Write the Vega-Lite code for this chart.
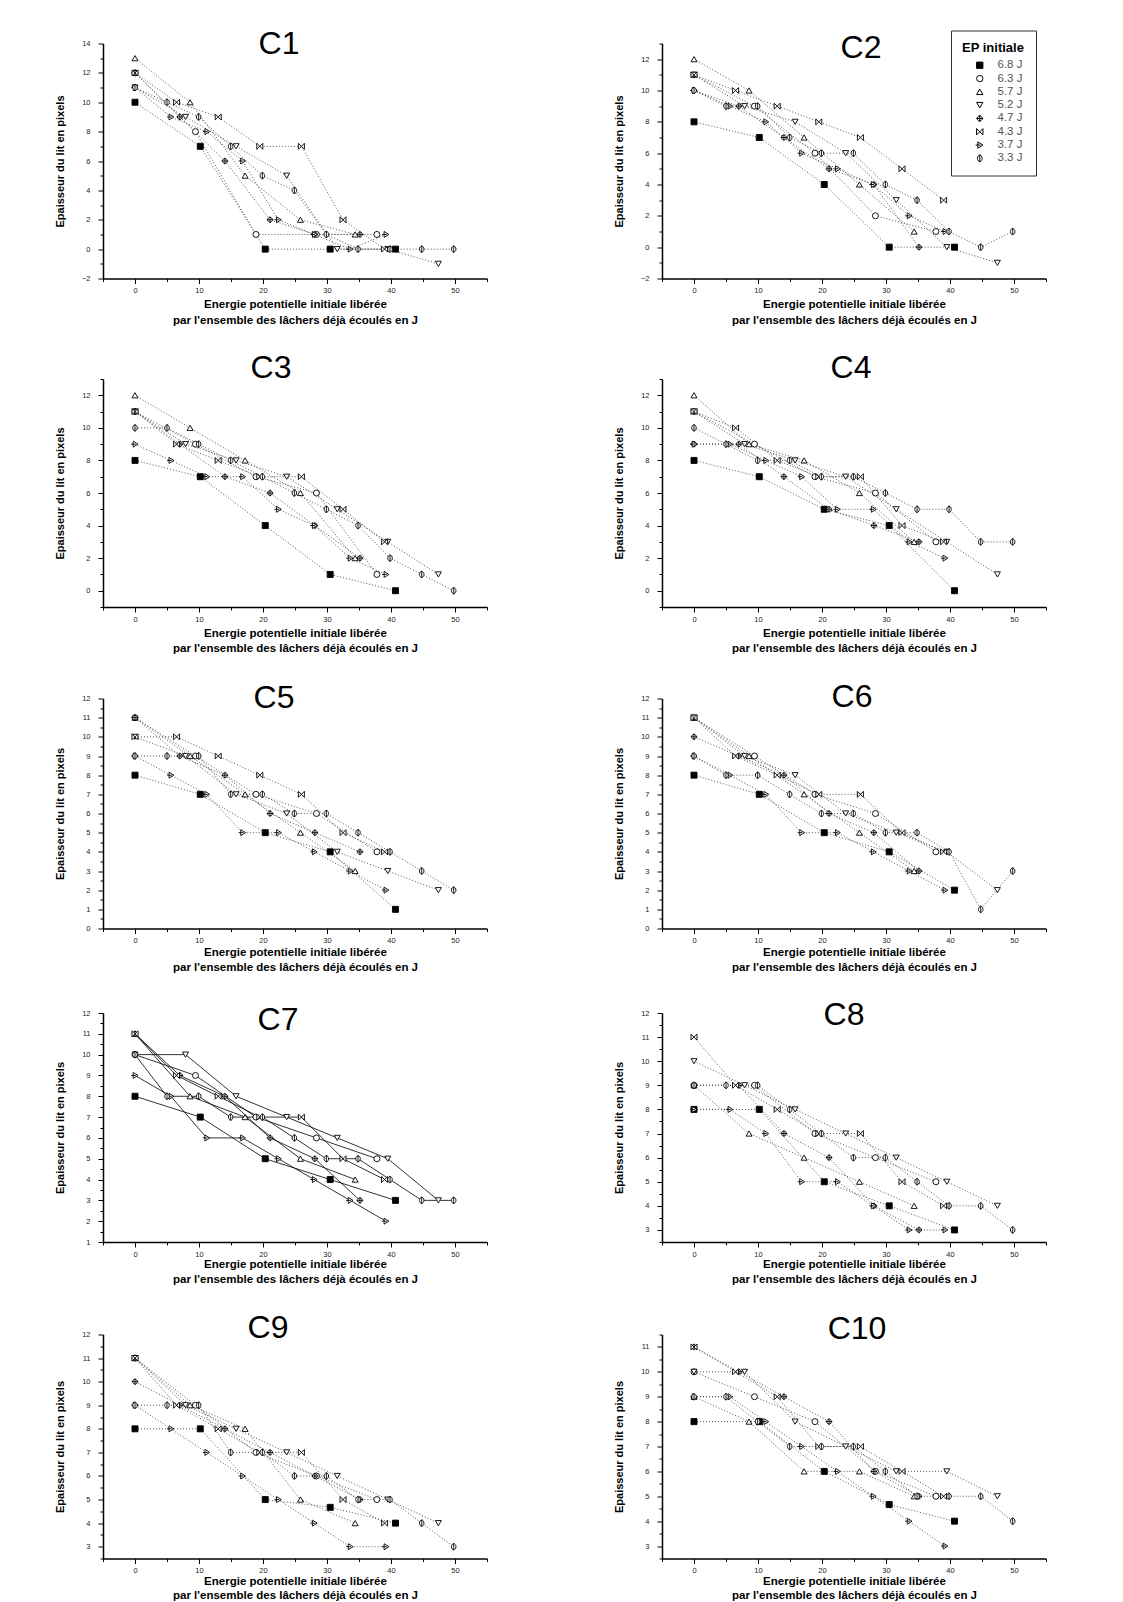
{
"$schema":"https://vega.github.io/schema/vega-lite/v6.json",
"background":"white",
"padding":{"left":54,"top":27.5,"right":5,"bottom":0},
"datasets":{
"C1":[
{"s":"6.8 J","x":0,"y":10},{"s":"6.8 J","x":10.2,"y":7},{"s":"6.8 J","x":20.35,"y":0},{"s":"6.8 J","x":30.5,"y":0},{"s":"6.8 J","x":40.7,"y":0},
{"s":"6.3 J","x":0,"y":12},{"s":"6.3 J","x":9.45,"y":8},{"s":"6.3 J","x":18.9,"y":1},{"s":"6.3 J","x":28.35,"y":1},{"s":"6.3 J","x":37.8,"y":1},
{"s":"5.7 J","x":0,"y":13},{"s":"5.7 J","x":8.6,"y":10},{"s":"5.7 J","x":17.2,"y":5},{"s":"5.7 J","x":25.85,"y":2},{"s":"5.7 J","x":34.4,"y":1},
{"s":"5.2 J","x":0,"y":11},{"s":"5.2 J","x":7.9,"y":9},{"s":"5.2 J","x":15.8,"y":7},{"s":"5.2 J","x":23.7,"y":5},{"s":"5.2 J","x":31.6,"y":0},{"s":"5.2 J","x":39.5,"y":0},{"s":"5.2 J","x":47.4,"y":-1},
{"s":"4.7 J","x":0,"y":12},{"s":"4.7 J","x":7,"y":9},{"s":"4.7 J","x":14.05,"y":6},{"s":"4.7 J","x":21.1,"y":2},{"s":"4.7 J","x":28.1,"y":1},{"s":"4.7 J","x":35.15,"y":1},
{"s":"4.3 J","x":0,"y":12},{"s":"4.3 J","x":6.5,"y":10},{"s":"4.3 J","x":13,"y":9},{"s":"4.3 J","x":19.5,"y":7},{"s":"4.3 J","x":26,"y":7},{"s":"4.3 J","x":32.5,"y":2},{"s":"4.3 J","x":39,"y":0},
{"s":"3.7 J","x":0,"y":11},{"s":"3.7 J","x":5.6,"y":9},{"s":"3.7 J","x":11.2,"y":8},{"s":"3.7 J","x":16.8,"y":6},{"s":"3.7 J","x":22.4,"y":2},{"s":"3.7 J","x":28,"y":1},{"s":"3.7 J","x":33.6,"y":0},{"s":"3.7 J","x":39.2,"y":1},
{"s":"3.3 J","x":0,"y":11},{"s":"3.3 J","x":5,"y":10},{"s":"3.3 J","x":9.95,"y":9},{"s":"3.3 J","x":14.95,"y":7},{"s":"3.3 J","x":19.9,"y":5},{"s":"3.3 J","x":24.9,"y":4},{"s":"3.3 J","x":29.9,"y":1},{"s":"3.3 J","x":34.85,"y":0},{"s":"3.3 J","x":39.85,"y":0},{"s":"3.3 J","x":44.8,"y":0},{"s":"3.3 J","x":49.8,"y":0}
],
"C2":[
{"s":"6.8 J","x":0,"y":8},{"s":"6.8 J","x":10.2,"y":7},{"s":"6.8 J","x":20.35,"y":4},{"s":"6.8 J","x":30.5,"y":0},{"s":"6.8 J","x":40.7,"y":0},
{"s":"6.3 J","x":0,"y":11},{"s":"6.3 J","x":9.45,"y":9},{"s":"6.3 J","x":18.9,"y":6},{"s":"6.3 J","x":28.35,"y":2},{"s":"6.3 J","x":37.8,"y":1},
{"s":"5.7 J","x":0,"y":12},{"s":"5.7 J","x":8.6,"y":10},{"s":"5.7 J","x":17.2,"y":7},{"s":"5.7 J","x":25.85,"y":4},{"s":"5.7 J","x":34.4,"y":1},
{"s":"5.2 J","x":0,"y":11},{"s":"5.2 J","x":7.9,"y":9},{"s":"5.2 J","x":15.8,"y":8},{"s":"5.2 J","x":23.7,"y":6},{"s":"5.2 J","x":31.6,"y":3},{"s":"5.2 J","x":39.5,"y":0},{"s":"5.2 J","x":47.4,"y":-1},
{"s":"4.7 J","x":0,"y":10},{"s":"4.7 J","x":7,"y":9},{"s":"4.7 J","x":14.05,"y":7},{"s":"4.7 J","x":21.1,"y":5},{"s":"4.7 J","x":28.1,"y":4},{"s":"4.7 J","x":35.15,"y":0},
{"s":"4.3 J","x":0,"y":11},{"s":"4.3 J","x":6.5,"y":10},{"s":"4.3 J","x":13,"y":9},{"s":"4.3 J","x":19.5,"y":8},{"s":"4.3 J","x":26,"y":7},{"s":"4.3 J","x":32.5,"y":5},{"s":"4.3 J","x":39,"y":3},
{"s":"3.7 J","x":0,"y":10},{"s":"3.7 J","x":5.6,"y":9},{"s":"3.7 J","x":11.2,"y":8},{"s":"3.7 J","x":16.8,"y":6},{"s":"3.7 J","x":22.4,"y":5},{"s":"3.7 J","x":28,"y":4},{"s":"3.7 J","x":33.6,"y":2},{"s":"3.7 J","x":39.2,"y":1},
{"s":"3.3 J","x":0,"y":10},{"s":"3.3 J","x":5,"y":9},{"s":"3.3 J","x":9.95,"y":9},{"s":"3.3 J","x":14.95,"y":7},{"s":"3.3 J","x":19.9,"y":6},{"s":"3.3 J","x":24.9,"y":6},{"s":"3.3 J","x":29.9,"y":4},{"s":"3.3 J","x":34.85,"y":3},{"s":"3.3 J","x":39.85,"y":1},{"s":"3.3 J","x":44.8,"y":0},{"s":"3.3 J","x":49.8,"y":1}
],
"C3":[
{"s":"6.8 J","x":0,"y":8},{"s":"6.8 J","x":10.2,"y":7},{"s":"6.8 J","x":20.35,"y":4},{"s":"6.8 J","x":30.5,"y":1},{"s":"6.8 J","x":40.7,"y":0},
{"s":"6.3 J","x":0,"y":11},{"s":"6.3 J","x":9.45,"y":9},{"s":"6.3 J","x":18.9,"y":7},{"s":"6.3 J","x":28.35,"y":6},{"s":"6.3 J","x":37.8,"y":1},
{"s":"5.7 J","x":0,"y":12},{"s":"5.7 J","x":8.6,"y":10},{"s":"5.7 J","x":17.2,"y":8},{"s":"5.7 J","x":25.85,"y":6},{"s":"5.7 J","x":34.4,"y":2},
{"s":"5.2 J","x":0,"y":11},{"s":"5.2 J","x":7.9,"y":9},{"s":"5.2 J","x":15.8,"y":8},{"s":"5.2 J","x":23.7,"y":7},{"s":"5.2 J","x":31.6,"y":5},{"s":"5.2 J","x":39.5,"y":3},{"s":"5.2 J","x":47.4,"y":1},
{"s":"4.7 J","x":0,"y":11},{"s":"4.7 J","x":7,"y":9},{"s":"4.7 J","x":14.05,"y":7},{"s":"4.7 J","x":21.1,"y":6},{"s":"4.7 J","x":28.1,"y":4},{"s":"4.7 J","x":35.15,"y":2},
{"s":"4.3 J","x":0,"y":11},{"s":"4.3 J","x":6.5,"y":9},{"s":"4.3 J","x":13,"y":8},{"s":"4.3 J","x":19.5,"y":7},{"s":"4.3 J","x":26,"y":7},{"s":"4.3 J","x":32.5,"y":5},{"s":"4.3 J","x":39,"y":3},
{"s":"3.7 J","x":0,"y":9},{"s":"3.7 J","x":5.6,"y":8},{"s":"3.7 J","x":11.2,"y":7},{"s":"3.7 J","x":16.8,"y":7},{"s":"3.7 J","x":22.4,"y":5},{"s":"3.7 J","x":28,"y":4},{"s":"3.7 J","x":33.6,"y":2},{"s":"3.7 J","x":39.2,"y":1},
{"s":"3.3 J","x":0,"y":10},{"s":"3.3 J","x":5,"y":10},{"s":"3.3 J","x":9.95,"y":9},{"s":"3.3 J","x":14.95,"y":8},{"s":"3.3 J","x":19.9,"y":7},{"s":"3.3 J","x":24.9,"y":6},{"s":"3.3 J","x":29.9,"y":5},{"s":"3.3 J","x":34.85,"y":4},{"s":"3.3 J","x":39.85,"y":2},{"s":"3.3 J","x":44.8,"y":1},{"s":"3.3 J","x":49.8,"y":0}
],
"C4":[
{"s":"6.8 J","x":0,"y":8},{"s":"6.8 J","x":10.2,"y":7},{"s":"6.8 J","x":20.35,"y":5},{"s":"6.8 J","x":30.5,"y":4},{"s":"6.8 J","x":40.7,"y":0},
{"s":"6.3 J","x":0,"y":11},{"s":"6.3 J","x":9.45,"y":9},{"s":"6.3 J","x":18.9,"y":7},{"s":"6.3 J","x":28.35,"y":6},{"s":"6.3 J","x":37.8,"y":3},
{"s":"5.7 J","x":0,"y":12},{"s":"5.7 J","x":8.6,"y":9},{"s":"5.7 J","x":17.2,"y":8},{"s":"5.7 J","x":25.85,"y":6},{"s":"5.7 J","x":34.4,"y":3},
{"s":"5.2 J","x":0,"y":11},{"s":"5.2 J","x":7.9,"y":9},{"s":"5.2 J","x":15.8,"y":8},{"s":"5.2 J","x":23.7,"y":7},{"s":"5.2 J","x":31.6,"y":5},{"s":"5.2 J","x":39.5,"y":3},{"s":"5.2 J","x":47.4,"y":1},
{"s":"4.7 J","x":0,"y":9},{"s":"4.7 J","x":7,"y":9},{"s":"4.7 J","x":14.05,"y":7},{"s":"4.7 J","x":21.1,"y":5},{"s":"4.7 J","x":28.1,"y":4},{"s":"4.7 J","x":35.15,"y":3},
{"s":"4.3 J","x":0,"y":11},{"s":"4.3 J","x":6.5,"y":10},{"s":"4.3 J","x":13,"y":8},{"s":"4.3 J","x":19.5,"y":7},{"s":"4.3 J","x":26,"y":7},{"s":"4.3 J","x":32.5,"y":4},{"s":"4.3 J","x":39,"y":3},
{"s":"3.7 J","x":0,"y":9},{"s":"3.7 J","x":5.6,"y":9},{"s":"3.7 J","x":11.2,"y":8},{"s":"3.7 J","x":16.8,"y":7},{"s":"3.7 J","x":22.4,"y":5},{"s":"3.7 J","x":28,"y":5},{"s":"3.7 J","x":33.6,"y":3},{"s":"3.7 J","x":39.2,"y":2},
{"s":"3.3 J","x":0,"y":10},{"s":"3.3 J","x":5,"y":9},{"s":"3.3 J","x":9.95,"y":8},{"s":"3.3 J","x":14.95,"y":8},{"s":"3.3 J","x":19.9,"y":7},{"s":"3.3 J","x":24.9,"y":7},{"s":"3.3 J","x":29.9,"y":6},{"s":"3.3 J","x":34.85,"y":5},{"s":"3.3 J","x":39.85,"y":5},{"s":"3.3 J","x":44.8,"y":3},{"s":"3.3 J","x":49.8,"y":3}
],
"C5":[
{"s":"6.8 J","x":0,"y":8},{"s":"6.8 J","x":10.2,"y":7},{"s":"6.8 J","x":20.35,"y":5},{"s":"6.8 J","x":30.5,"y":4},{"s":"6.8 J","x":40.7,"y":1},
{"s":"6.3 J","x":0,"y":11},{"s":"6.3 J","x":9.45,"y":9},{"s":"6.3 J","x":18.9,"y":7},{"s":"6.3 J","x":28.35,"y":6},{"s":"6.3 J","x":37.8,"y":4},
{"s":"5.7 J","x":0,"y":11},{"s":"5.7 J","x":8.6,"y":9},{"s":"5.7 J","x":17.2,"y":7},{"s":"5.7 J","x":25.85,"y":5},{"s":"5.7 J","x":34.4,"y":3},
{"s":"5.2 J","x":0,"y":10},{"s":"5.2 J","x":7.9,"y":9},{"s":"5.2 J","x":15.8,"y":7},{"s":"5.2 J","x":23.7,"y":6},{"s":"5.2 J","x":31.6,"y":4},{"s":"5.2 J","x":39.5,"y":3},{"s":"5.2 J","x":47.4,"y":2},
{"s":"4.7 J","x":0,"y":11},{"s":"4.7 J","x":7,"y":9},{"s":"4.7 J","x":14.05,"y":8},{"s":"4.7 J","x":21.1,"y":6},{"s":"4.7 J","x":28.1,"y":5},{"s":"4.7 J","x":35.15,"y":4},
{"s":"4.3 J","x":0,"y":10},{"s":"4.3 J","x":6.5,"y":10},{"s":"4.3 J","x":13,"y":9},{"s":"4.3 J","x":19.5,"y":8},{"s":"4.3 J","x":26,"y":7},{"s":"4.3 J","x":32.5,"y":5},{"s":"4.3 J","x":39,"y":4},
{"s":"3.7 J","x":0,"y":9},{"s":"3.7 J","x":5.6,"y":8},{"s":"3.7 J","x":11.2,"y":7},{"s":"3.7 J","x":16.8,"y":5},{"s":"3.7 J","x":22.4,"y":5},{"s":"3.7 J","x":28,"y":4},{"s":"3.7 J","x":33.6,"y":3},{"s":"3.7 J","x":39.2,"y":2},
{"s":"3.3 J","x":0,"y":9},{"s":"3.3 J","x":5,"y":9},{"s":"3.3 J","x":9.95,"y":9},{"s":"3.3 J","x":14.95,"y":7},{"s":"3.3 J","x":19.9,"y":7},{"s":"3.3 J","x":24.9,"y":6},{"s":"3.3 J","x":29.9,"y":6},{"s":"3.3 J","x":34.85,"y":5},{"s":"3.3 J","x":39.85,"y":4},{"s":"3.3 J","x":44.8,"y":3},{"s":"3.3 J","x":49.8,"y":2}
],
"C6":[
{"s":"6.8 J","x":0,"y":8},{"s":"6.8 J","x":10.2,"y":7},{"s":"6.8 J","x":20.35,"y":5},{"s":"6.8 J","x":30.5,"y":4},{"s":"6.8 J","x":40.7,"y":2},
{"s":"6.3 J","x":0,"y":11},{"s":"6.3 J","x":9.45,"y":9},{"s":"6.3 J","x":18.9,"y":7},{"s":"6.3 J","x":28.35,"y":6},{"s":"6.3 J","x":37.8,"y":4},
{"s":"5.7 J","x":0,"y":11},{"s":"5.7 J","x":8.6,"y":9},{"s":"5.7 J","x":17.2,"y":7},{"s":"5.7 J","x":25.85,"y":5},{"s":"5.7 J","x":34.4,"y":3},
{"s":"5.2 J","x":0,"y":11},{"s":"5.2 J","x":7.9,"y":9},{"s":"5.2 J","x":15.8,"y":8},{"s":"5.2 J","x":23.7,"y":6},{"s":"5.2 J","x":31.6,"y":5},{"s":"5.2 J","x":39.5,"y":4},{"s":"5.2 J","x":47.4,"y":2},
{"s":"4.7 J","x":0,"y":10},{"s":"4.7 J","x":7,"y":9},{"s":"4.7 J","x":14.05,"y":8},{"s":"4.7 J","x":21.1,"y":6},{"s":"4.7 J","x":28.1,"y":5},{"s":"4.7 J","x":35.15,"y":3},
{"s":"4.3 J","x":0,"y":11},{"s":"4.3 J","x":6.5,"y":9},{"s":"4.3 J","x":13,"y":8},{"s":"4.3 J","x":19.5,"y":7},{"s":"4.3 J","x":26,"y":7},{"s":"4.3 J","x":32.5,"y":5},{"s":"4.3 J","x":39,"y":4},
{"s":"3.7 J","x":0,"y":9},{"s":"3.7 J","x":5.6,"y":8},{"s":"3.7 J","x":11.2,"y":7},{"s":"3.7 J","x":16.8,"y":5},{"s":"3.7 J","x":22.4,"y":5},{"s":"3.7 J","x":28,"y":4},{"s":"3.7 J","x":33.6,"y":3},{"s":"3.7 J","x":39.2,"y":2},
{"s":"3.3 J","x":0,"y":9},{"s":"3.3 J","x":5,"y":8},{"s":"3.3 J","x":9.95,"y":8},{"s":"3.3 J","x":14.95,"y":7},{"s":"3.3 J","x":19.9,"y":6},{"s":"3.3 J","x":24.9,"y":6},{"s":"3.3 J","x":29.9,"y":5},{"s":"3.3 J","x":34.85,"y":5},{"s":"3.3 J","x":39.85,"y":4},{"s":"3.3 J","x":44.8,"y":1},{"s":"3.3 J","x":49.8,"y":3}
],
"C7":[
{"s":"6.8 J","x":0,"y":8},{"s":"6.8 J","x":10.2,"y":7},{"s":"6.8 J","x":20.35,"y":5},{"s":"6.8 J","x":30.5,"y":4},{"s":"6.8 J","x":40.7,"y":3},
{"s":"6.3 J","x":0,"y":10},{"s":"6.3 J","x":9.45,"y":9},{"s":"6.3 J","x":18.9,"y":7},{"s":"6.3 J","x":28.35,"y":6},{"s":"6.3 J","x":37.8,"y":5},
{"s":"5.7 J","x":0,"y":11},{"s":"5.7 J","x":8.6,"y":8},{"s":"5.7 J","x":17.2,"y":7},{"s":"5.7 J","x":25.85,"y":5},{"s":"5.7 J","x":34.4,"y":4},
{"s":"5.2 J","x":0,"y":10},{"s":"5.2 J","x":7.9,"y":10},{"s":"5.2 J","x":15.8,"y":8},{"s":"5.2 J","x":23.7,"y":7},{"s":"5.2 J","x":31.6,"y":6},{"s":"5.2 J","x":39.5,"y":5},{"s":"5.2 J","x":47.4,"y":3},
{"s":"4.7 J","x":0,"y":11},{"s":"4.7 J","x":7,"y":9},{"s":"4.7 J","x":14.05,"y":8},{"s":"4.7 J","x":21.1,"y":6},{"s":"4.7 J","x":28.1,"y":5},{"s":"4.7 J","x":35.15,"y":3},
{"s":"4.3 J","x":0,"y":11},{"s":"4.3 J","x":6.5,"y":9},{"s":"4.3 J","x":13,"y":8},{"s":"4.3 J","x":19.5,"y":7},{"s":"4.3 J","x":26,"y":7},{"s":"4.3 J","x":32.5,"y":5},{"s":"4.3 J","x":39,"y":4},
{"s":"3.7 J","x":0,"y":9},{"s":"3.7 J","x":5.6,"y":8},{"s":"3.7 J","x":11.2,"y":6},{"s":"3.7 J","x":16.8,"y":6},{"s":"3.7 J","x":22.4,"y":5},{"s":"3.7 J","x":28,"y":4},{"s":"3.7 J","x":33.6,"y":3},{"s":"3.7 J","x":39.2,"y":2},
{"s":"3.3 J","x":0,"y":10},{"s":"3.3 J","x":5,"y":8},{"s":"3.3 J","x":9.95,"y":8},{"s":"3.3 J","x":14.95,"y":7},{"s":"3.3 J","x":19.9,"y":7},{"s":"3.3 J","x":24.9,"y":6},{"s":"3.3 J","x":29.9,"y":5},{"s":"3.3 J","x":34.85,"y":5},{"s":"3.3 J","x":39.85,"y":4},{"s":"3.3 J","x":44.8,"y":3},{"s":"3.3 J","x":49.8,"y":3}
],
"C8":[
{"s":"6.8 J","x":0,"y":8},{"s":"6.8 J","x":10.2,"y":8},{"s":"6.8 J","x":20.35,"y":5},{"s":"6.8 J","x":30.5,"y":4},{"s":"6.8 J","x":40.7,"y":3},
{"s":"6.3 J","x":0,"y":9},{"s":"6.3 J","x":9.45,"y":9},{"s":"6.3 J","x":18.9,"y":7},{"s":"6.3 J","x":28.35,"y":6},{"s":"6.3 J","x":37.8,"y":5},
{"s":"5.7 J","x":0,"y":9},{"s":"5.7 J","x":8.6,"y":7},{"s":"5.7 J","x":17.2,"y":6},{"s":"5.7 J","x":25.85,"y":5},{"s":"5.7 J","x":34.4,"y":4},
{"s":"5.2 J","x":0,"y":10},{"s":"5.2 J","x":7.9,"y":9},{"s":"5.2 J","x":15.8,"y":8},{"s":"5.2 J","x":23.7,"y":7},{"s":"5.2 J","x":31.6,"y":6},{"s":"5.2 J","x":39.5,"y":5},{"s":"5.2 J","x":47.4,"y":4},
{"s":"4.7 J","x":0,"y":9},{"s":"4.7 J","x":7,"y":9},{"s":"4.7 J","x":14.05,"y":7},{"s":"4.7 J","x":21.1,"y":6},{"s":"4.7 J","x":28.1,"y":4},{"s":"4.7 J","x":35.15,"y":3},
{"s":"4.3 J","x":0,"y":11},{"s":"4.3 J","x":6.5,"y":9},{"s":"4.3 J","x":13,"y":8},{"s":"4.3 J","x":19.5,"y":7},{"s":"4.3 J","x":26,"y":7},{"s":"4.3 J","x":32.5,"y":5},{"s":"4.3 J","x":39,"y":4},
{"s":"3.7 J","x":0,"y":8},{"s":"3.7 J","x":5.6,"y":8},{"s":"3.7 J","x":11.2,"y":7},{"s":"3.7 J","x":16.8,"y":5},{"s":"3.7 J","x":22.4,"y":5},{"s":"3.7 J","x":28,"y":4},{"s":"3.7 J","x":33.6,"y":3},{"s":"3.7 J","x":39.2,"y":3},
{"s":"3.3 J","x":0,"y":9},{"s":"3.3 J","x":5,"y":9},{"s":"3.3 J","x":9.95,"y":9},{"s":"3.3 J","x":14.95,"y":8},{"s":"3.3 J","x":19.9,"y":7},{"s":"3.3 J","x":24.9,"y":6},{"s":"3.3 J","x":29.9,"y":6},{"s":"3.3 J","x":34.85,"y":5},{"s":"3.3 J","x":39.85,"y":4},{"s":"3.3 J","x":44.8,"y":4},{"s":"3.3 J","x":49.8,"y":3}
],
"C9":[
{"s":"6.8 J","x":0,"y":8},{"s":"6.8 J","x":10.2,"y":8},{"s":"6.8 J","x":20.35,"y":5},{"s":"6.8 J","x":30.5,"y":4.67},{"s":"6.8 J","x":40.7,"y":4},
{"s":"6.3 J","x":0,"y":11},{"s":"6.3 J","x":9.45,"y":9},{"s":"6.3 J","x":18.9,"y":7},{"s":"6.3 J","x":28.35,"y":6},{"s":"6.3 J","x":37.8,"y":5},
{"s":"5.7 J","x":0,"y":11},{"s":"5.7 J","x":8.6,"y":9},{"s":"5.7 J","x":17.2,"y":8},{"s":"5.7 J","x":25.85,"y":5},{"s":"5.7 J","x":34.4,"y":4},
{"s":"5.2 J","x":0,"y":11},{"s":"5.2 J","x":7.9,"y":9},{"s":"5.2 J","x":15.8,"y":8},{"s":"5.2 J","x":23.7,"y":7},{"s":"5.2 J","x":31.6,"y":6},{"s":"5.2 J","x":39.5,"y":5},{"s":"5.2 J","x":47.4,"y":4},
{"s":"4.7 J","x":0,"y":10},{"s":"4.7 J","x":7,"y":9},{"s":"4.7 J","x":14.05,"y":8},{"s":"4.7 J","x":21.1,"y":7},{"s":"4.7 J","x":28.1,"y":6},{"s":"4.7 J","x":35.15,"y":5},
{"s":"4.3 J","x":0,"y":11},{"s":"4.3 J","x":6.5,"y":9},{"s":"4.3 J","x":13,"y":8},{"s":"4.3 J","x":19.5,"y":7},{"s":"4.3 J","x":26,"y":7},{"s":"4.3 J","x":32.5,"y":5},{"s":"4.3 J","x":39,"y":4},
{"s":"3.7 J","x":0,"y":9},{"s":"3.7 J","x":5.6,"y":8},{"s":"3.7 J","x":11.2,"y":7},{"s":"3.7 J","x":16.8,"y":6},{"s":"3.7 J","x":22.4,"y":5},{"s":"3.7 J","x":28,"y":4},{"s":"3.7 J","x":33.6,"y":3},{"s":"3.7 J","x":39.2,"y":3},
{"s":"3.3 J","x":0,"y":9},{"s":"3.3 J","x":5,"y":9},{"s":"3.3 J","x":9.95,"y":9},{"s":"3.3 J","x":14.95,"y":7},{"s":"3.3 J","x":19.9,"y":7},{"s":"3.3 J","x":24.9,"y":6},{"s":"3.3 J","x":29.9,"y":6},{"s":"3.3 J","x":34.85,"y":5},{"s":"3.3 J","x":39.85,"y":5},{"s":"3.3 J","x":44.8,"y":4},{"s":"3.3 J","x":49.8,"y":3}
],
"C10":[
{"s":"6.8 J","x":0,"y":8},{"s":"6.8 J","x":10.2,"y":8},{"s":"6.8 J","x":20.35,"y":6},{"s":"6.8 J","x":30.5,"y":4.67},{"s":"6.8 J","x":40.7,"y":4},
{"s":"6.3 J","x":0,"y":10},{"s":"6.3 J","x":9.45,"y":9},{"s":"6.3 J","x":18.9,"y":8},{"s":"6.3 J","x":28.35,"y":6},{"s":"6.3 J","x":37.8,"y":5},
{"s":"5.7 J","x":0,"y":9},{"s":"5.7 J","x":8.6,"y":8},{"s":"5.7 J","x":17.2,"y":6},{"s":"5.7 J","x":25.85,"y":6},{"s":"5.7 J","x":34.4,"y":5},
{"s":"5.2 J","x":0,"y":10},{"s":"5.2 J","x":7.9,"y":10},{"s":"5.2 J","x":15.8,"y":8},{"s":"5.2 J","x":23.7,"y":7},{"s":"5.2 J","x":31.6,"y":6},{"s":"5.2 J","x":39.5,"y":6},{"s":"5.2 J","x":47.4,"y":5},
{"s":"4.7 J","x":0,"y":11},{"s":"4.7 J","x":7,"y":10},{"s":"4.7 J","x":14.05,"y":9},{"s":"4.7 J","x":21.1,"y":8},{"s":"4.7 J","x":28.1,"y":6},{"s":"4.7 J","x":35.15,"y":5},
{"s":"4.3 J","x":0,"y":11},{"s":"4.3 J","x":6.5,"y":10},{"s":"4.3 J","x":13,"y":9},{"s":"4.3 J","x":19.5,"y":7},{"s":"4.3 J","x":26,"y":7},{"s":"4.3 J","x":32.5,"y":6},{"s":"4.3 J","x":39,"y":5},
{"s":"3.7 J","x":0,"y":9},{"s":"3.7 J","x":5.6,"y":9},{"s":"3.7 J","x":11.2,"y":8},{"s":"3.7 J","x":16.8,"y":7},{"s":"3.7 J","x":22.4,"y":6},{"s":"3.7 J","x":28,"y":5},{"s":"3.7 J","x":33.6,"y":4},{"s":"3.7 J","x":39.2,"y":3},
{"s":"3.3 J","x":0,"y":9},{"s":"3.3 J","x":5,"y":9},{"s":"3.3 J","x":9.95,"y":8},{"s":"3.3 J","x":14.95,"y":7},{"s":"3.3 J","x":19.9,"y":7},{"s":"3.3 J","x":24.9,"y":7},{"s":"3.3 J","x":29.9,"y":6},{"s":"3.3 J","x":34.85,"y":5},{"s":"3.3 J","x":39.85,"y":5},{"s":"3.3 J","x":44.8,"y":5},{"s":"3.3 J","x":49.8,"y":4}
]
},
"resolve":{"scale":{"shape":"independent","fill":"independent","stroke":"independent"},"legend":{"shape":"independent","fill":"independent","stroke":"independent"}},
"bounds":"full",
"spacing":26.5,
"vconcat":[
{"hconcat":[
{"width":384,"height":235,"data":{"name":"C1"},"title":{"text":"C1","offset":-21,"dx":-16},
"encoding":{"x":{"field":"x","type":"quantitative","scale":{"domain":[-5,55],"nice":false,"zero":false},"axis":{"values":[-5,0,5,10,15,20,25,30,35,40,45,50,55],"labelExpr":"datum.value % 10 === 0 ? datum.label : ''","tickSize":{"condition":{"test":"datum.value % 10 === 0","value":5},"value":3},"titlePadding":4,"titleLineHeight":16,"title":["Energie potentielle initiale libérée","par l'ensemble des lâchers déjà écoulés en J"]}},
"y":{"field":"y","type":"quantitative","scale":{"domain":[-2,14],"nice":false,"zero":false},"axis":{"values":[-2,-1,0,1,2,3,4,5,6,7,8,9,10,11,12,13,14],"labelExpr":"datum.value % 2 === 0 ? datum.label : ''","tickSize":{"condition":{"test":"datum.value % 2 === 0","value":5},"value":3},"title":"Epaisseur du lit en pixels"}}},
"layer":[{"mark":{"type":"line","strokeDash":[1,2],"color":"#555","strokeWidth":1},"encoding":{"detail":{"field":"s"}}},
{"mark":{"type":"point","filled":true,"strokeWidth":0.9,"size":36,"opacity":1},"encoding":{"shape":{"field":"s","type":"nominal","scale":{"domain":["6.8 J","6.3 J","5.7 J","5.2 J","4.7 J","4.3 J","3.7 J","3.3 J"],"range":["square","circle","triangle-up","triangle-down","M-0.8,0A0.8,0.8,0,1,0,0.8,0A0.8,0.8,0,1,0,-0.8,0ZM-1.1,0L1.1,0M0,-1.1L0,1.1","M-1,-1L1,1L1,-1L-1,1Z","M-0.6,-1L1,0L-0.6,1ZM-1.3,0L0.3,0","M-0.75,0A0.75,1,0,1,0,0.75,0A0.75,1,0,1,0,-0.75,0ZM0,-1.2L0,1.2"]},"legend":null},"fill":{"field":"s","type":"nominal","scale":{"domain":["6.8 J","6.3 J","5.7 J","5.2 J","4.7 J","4.3 J","3.7 J","3.3 J"],"range":["black","white","white","white","white","white","white","white"]},"legend":null},"stroke":{"field":"s","type":"nominal","scale":{"domain":["6.8 J","6.3 J","5.7 J","5.2 J","4.7 J","4.3 J","3.7 J","3.3 J"],"range":["black","black","black","black","black","black","black","black"]},"legend":null}}}]},
{"width":384,"height":235,"data":{"name":"C2"},"title":{"text":"C2","offset":-35,"dx":7},
"encoding":{"x":{"field":"x","type":"quantitative","scale":{"domain":[-5,55],"nice":false,"zero":false},"axis":{"values":[-5,0,5,10,15,20,25,30,35,40,45,50,55],"labelExpr":"datum.value % 10 === 0 ? datum.label : ''","tickSize":{"condition":{"test":"datum.value % 10 === 0","value":5},"value":3},"titlePadding":4,"titleLineHeight":16,"title":["Energie potentielle initiale libérée","par l'ensemble des lâchers déjà écoulés en J"]}},
"y":{"field":"y","type":"quantitative","scale":{"domain":[-2,13],"nice":false,"zero":false},"axis":{"values":[-2,-1,0,1,2,3,4,5,6,7,8,9,10,11,12,13],"labelExpr":"datum.value % 2 === 0 ? datum.label : ''","tickSize":{"condition":{"test":"datum.value % 2 === 0","value":5},"value":3},"title":"Epaisseur du lit en pixels"}}},
"layer":[{"mark":{"type":"line","strokeDash":[1,2],"color":"#555","strokeWidth":1},"encoding":{"detail":{"field":"s"}}},
{"mark":{"type":"point","filled":true,"strokeWidth":0.9,"size":36,"opacity":1},"encoding":{"shape":{"field":"s","type":"nominal","scale":{"domain":["6.8 J","6.3 J","5.7 J","5.2 J","4.7 J","4.3 J","3.7 J","3.3 J"],"range":["square","circle","triangle-up","triangle-down","M-0.8,0A0.8,0.8,0,1,0,0.8,0A0.8,0.8,0,1,0,-0.8,0ZM-1.1,0L1.1,0M0,-1.1L0,1.1","M-1,-1L1,1L1,-1L-1,1Z","M-0.6,-1L1,0L-0.6,1ZM-1.3,0L0.3,0","M-0.75,0A0.75,1,0,1,0,0.75,0A0.75,1,0,1,0,-0.75,0ZM0,-1.2L0,1.2"]},"legend":{"title":"EP initiale","orient":"none","legendX":289,"legendY":-13}},"fill":{"field":"s","type":"nominal","scale":{"domain":["6.8 J","6.3 J","5.7 J","5.2 J","4.7 J","4.3 J","3.7 J","3.3 J"],"range":["black","white","white","white","white","white","white","white"]},"legend":{"title":"EP initiale","orient":"none","legendX":289,"legendY":-13}},"stroke":{"field":"s","type":"nominal","scale":{"domain":["6.8 J","6.3 J","5.7 J","5.2 J","4.7 J","4.3 J","3.7 J","3.3 J"],"range":["black","black","black","black","black","black","black","black"]},"legend":{"title":"EP initiale","orient":"none","legendX":289,"legendY":-13}}}}]}
],"spacing":175,"bounds":"flush","resolve":{"scale":{"shape":"independent","fill":"independent","stroke":"independent"},"legend":{"shape":"independent","fill":"independent","stroke":"independent"}}},
{"hconcat":[
{"width":384,"height":228,"data":{"name":"C3"},"title":{"text":"C3","offset":-10,"dx":-24},
"encoding":{"x":{"field":"x","type":"quantitative","scale":{"domain":[-5,55],"nice":false,"zero":false},"axis":{"values":[-5,0,5,10,15,20,25,30,35,40,45,50,55],"labelExpr":"datum.value % 10 === 0 ? datum.label : ''","tickSize":{"condition":{"test":"datum.value % 10 === 0","value":5},"value":3},"titlePadding":5,"title":["Energie potentielle initiale libérée","par l'ensemble des lâchers déjà écoulés en J"]}},
"y":{"field":"y","type":"quantitative","scale":{"domain":[-1,13],"nice":false,"zero":false},"axis":{"values":[-1,0,1,2,3,4,5,6,7,8,9,10,11,12,13],"labelExpr":"datum.value % 2 === 0 ? datum.label : ''","tickSize":{"condition":{"test":"datum.value % 2 === 0","value":5},"value":3},"title":"Epaisseur du lit en pixels"}}},
"layer":[{"mark":{"type":"line","strokeDash":[1,2],"color":"#555","strokeWidth":1},"encoding":{"detail":{"field":"s"}}},
{"mark":{"type":"point","filled":true,"strokeWidth":0.9,"size":36,"opacity":1},"encoding":{"shape":{"field":"s","type":"nominal","scale":{"domain":["6.8 J","6.3 J","5.7 J","5.2 J","4.7 J","4.3 J","3.7 J","3.3 J"],"range":["square","circle","triangle-up","triangle-down","M-0.8,0A0.8,0.8,0,1,0,0.8,0A0.8,0.8,0,1,0,-0.8,0ZM-1.1,0L1.1,0M0,-1.1L0,1.1","M-1,-1L1,1L1,-1L-1,1Z","M-0.6,-1L1,0L-0.6,1ZM-1.3,0L0.3,0","M-0.75,0A0.75,1,0,1,0,0.75,0A0.75,1,0,1,0,-0.75,0ZM0,-1.2L0,1.2"]},"legend":null},"fill":{"field":"s","type":"nominal","scale":{"domain":["6.8 J","6.3 J","5.7 J","5.2 J","4.7 J","4.3 J","3.7 J","3.3 J"],"range":["black","white","white","white","white","white","white","white"]},"legend":null},"stroke":{"field":"s","type":"nominal","scale":{"domain":["6.8 J","6.3 J","5.7 J","5.2 J","4.7 J","4.3 J","3.7 J","3.3 J"],"range":["black","black","black","black","black","black","black","black"]},"legend":null}}}]},
{"width":384,"height":228,"data":{"name":"C4"},"title":{"text":"C4","offset":-10,"dx":-3},
"encoding":{"x":{"field":"x","type":"quantitative","scale":{"domain":[-5,55],"nice":false,"zero":false},"axis":{"values":[-5,0,5,10,15,20,25,30,35,40,45,50,55],"labelExpr":"datum.value % 10 === 0 ? datum.label : ''","tickSize":{"condition":{"test":"datum.value % 10 === 0","value":5},"value":3},"titlePadding":5,"title":["Energie potentielle initiale libérée","par l'ensemble des lâchers déjà écoulés en J"]}},
"y":{"field":"y","type":"quantitative","scale":{"domain":[-1,13],"nice":false,"zero":false},"axis":{"values":[-1,0,1,2,3,4,5,6,7,8,9,10,11,12,13],"labelExpr":"datum.value % 2 === 0 ? datum.label : ''","tickSize":{"condition":{"test":"datum.value % 2 === 0","value":5},"value":3},"title":"Epaisseur du lit en pixels"}}},
"layer":[{"mark":{"type":"line","strokeDash":[1,2],"color":"#555","strokeWidth":1},"encoding":{"detail":{"field":"s"}}},
{"mark":{"type":"point","filled":true,"strokeWidth":0.9,"size":36,"opacity":1},"encoding":{"shape":{"field":"s","type":"nominal","scale":{"domain":["6.8 J","6.3 J","5.7 J","5.2 J","4.7 J","4.3 J","3.7 J","3.3 J"],"range":["square","circle","triangle-up","triangle-down","M-0.8,0A0.8,0.8,0,1,0,0.8,0A0.8,0.8,0,1,0,-0.8,0ZM-1.1,0L1.1,0M0,-1.1L0,1.1","M-1,-1L1,1L1,-1L-1,1Z","M-0.6,-1L1,0L-0.6,1ZM-1.3,0L0.3,0","M-0.75,0A0.75,1,0,1,0,0.75,0A0.75,1,0,1,0,-0.75,0ZM0,-1.2L0,1.2"]},"legend":null},"fill":{"field":"s","type":"nominal","scale":{"domain":["6.8 J","6.3 J","5.7 J","5.2 J","4.7 J","4.3 J","3.7 J","3.3 J"],"range":["black","white","white","white","white","white","white","white"]},"legend":null},"stroke":{"field":"s","type":"nominal","scale":{"domain":["6.8 J","6.3 J","5.7 J","5.2 J","4.7 J","4.3 J","3.7 J","3.3 J"],"range":["black","black","black","black","black","black","black","black"]},"legend":null}}}]}
],"spacing":175,"bounds":"flush","resolve":{"scale":{"shape":"independent","fill":"independent","stroke":"independent"},"legend":{"shape":"independent","fill":"independent","stroke":"independent"}}},
{"hconcat":[
{"width":384,"height":230,"data":{"name":"C5"},"title":{"text":"C5","offset":-20,"dx":-21},
"encoding":{"x":{"field":"x","type":"quantitative","scale":{"domain":[-5,55],"nice":false,"zero":false},"axis":{"values":[-5,0,5,10,15,20,25,30,35,40,45,50,55],"labelExpr":"datum.value % 10 === 0 ? datum.label : ''","tickSize":{"condition":{"test":"datum.value % 10 === 0","value":5},"value":3},"titlePadding":2,"title":["Energie potentielle initiale libérée","par l'ensemble des lâchers déjà écoulés en J"]}},
"y":{"field":"y","type":"quantitative","scale":{"domain":[0,12],"nice":false,"zero":false},"axis":{"values":[0,0.5,1,1.5,2,2.5,3,3.5,4,4.5,5,5.5,6,6.5,7,7.5,8,8.5,9,9.5,10,10.5,11,11.5,12],"labelExpr":"datum.value % 1 === 0 ? '' + datum.value : ''","tickSize":{"condition":{"test":"datum.value % 1 === 0","value":5},"value":3},"title":"Epaisseur du lit en pixels"}}},
"layer":[{"mark":{"type":"line","strokeDash":[1,2],"color":"#555","strokeWidth":1},"encoding":{"detail":{"field":"s"}}},
{"mark":{"type":"point","filled":true,"strokeWidth":0.9,"size":36,"opacity":1},"encoding":{"shape":{"field":"s","type":"nominal","scale":{"domain":["6.8 J","6.3 J","5.7 J","5.2 J","4.7 J","4.3 J","3.7 J","3.3 J"],"range":["square","circle","triangle-up","triangle-down","M-0.8,0A0.8,0.8,0,1,0,0.8,0A0.8,0.8,0,1,0,-0.8,0ZM-1.1,0L1.1,0M0,-1.1L0,1.1","M-1,-1L1,1L1,-1L-1,1Z","M-0.6,-1L1,0L-0.6,1ZM-1.3,0L0.3,0","M-0.75,0A0.75,1,0,1,0,0.75,0A0.75,1,0,1,0,-0.75,0ZM0,-1.2L0,1.2"]},"legend":null},"fill":{"field":"s","type":"nominal","scale":{"domain":["6.8 J","6.3 J","5.7 J","5.2 J","4.7 J","4.3 J","3.7 J","3.3 J"],"range":["black","white","white","white","white","white","white","white"]},"legend":null},"stroke":{"field":"s","type":"nominal","scale":{"domain":["6.8 J","6.3 J","5.7 J","5.2 J","4.7 J","4.3 J","3.7 J","3.3 J"],"range":["black","black","black","black","black","black","black","black"]},"legend":null}}}]},
{"width":384,"height":230,"data":{"name":"C6"},"title":{"text":"C6","offset":-19,"dx":-2},
"encoding":{"x":{"field":"x","type":"quantitative","scale":{"domain":[-5,55],"nice":false,"zero":false},"axis":{"values":[-5,0,5,10,15,20,25,30,35,40,45,50,55],"labelExpr":"datum.value % 10 === 0 ? datum.label : ''","tickSize":{"condition":{"test":"datum.value % 10 === 0","value":5},"value":3},"titlePadding":2,"title":["Energie potentielle initiale libérée","par l'ensemble des lâchers déjà écoulés en J"]}},
"y":{"field":"y","type":"quantitative","scale":{"domain":[0,12],"nice":false,"zero":false},"axis":{"values":[0,0.5,1,1.5,2,2.5,3,3.5,4,4.5,5,5.5,6,6.5,7,7.5,8,8.5,9,9.5,10,10.5,11,11.5,12],"labelExpr":"datum.value % 1 === 0 ? '' + datum.value : ''","tickSize":{"condition":{"test":"datum.value % 1 === 0","value":5},"value":3},"title":"Epaisseur du lit en pixels"}}},
"layer":[{"mark":{"type":"line","strokeDash":[1,2],"color":"#555","strokeWidth":1},"encoding":{"detail":{"field":"s"}}},
{"mark":{"type":"point","filled":true,"strokeWidth":0.9,"size":36,"opacity":1},"encoding":{"shape":{"field":"s","type":"nominal","scale":{"domain":["6.8 J","6.3 J","5.7 J","5.2 J","4.7 J","4.3 J","3.7 J","3.3 J"],"range":["square","circle","triangle-up","triangle-down","M-0.8,0A0.8,0.8,0,1,0,0.8,0A0.8,0.8,0,1,0,-0.8,0ZM-1.1,0L1.1,0M0,-1.1L0,1.1","M-1,-1L1,1L1,-1L-1,1Z","M-0.6,-1L1,0L-0.6,1ZM-1.3,0L0.3,0","M-0.75,0A0.75,1,0,1,0,0.75,0A0.75,1,0,1,0,-0.75,0ZM0,-1.2L0,1.2"]},"legend":null},"fill":{"field":"s","type":"nominal","scale":{"domain":["6.8 J","6.3 J","5.7 J","5.2 J","4.7 J","4.3 J","3.7 J","3.3 J"],"range":["black","white","white","white","white","white","white","white"]},"legend":null},"stroke":{"field":"s","type":"nominal","scale":{"domain":["6.8 J","6.3 J","5.7 J","5.2 J","4.7 J","4.3 J","3.7 J","3.3 J"],"range":["black","black","black","black","black","black","black","black"]},"legend":null}}}]}
],"spacing":175,"bounds":"flush","resolve":{"scale":{"shape":"independent","fill":"independent","stroke":"independent"},"legend":{"shape":"independent","fill":"independent","stroke":"independent"}}},
{"hconcat":[
{"width":384,"height":229,"data":{"name":"C7"},"title":{"text":"C7","offset":-28,"dx":-17},
"encoding":{"x":{"field":"x","type":"quantitative","scale":{"domain":[-5,55],"nice":false,"zero":false},"axis":{"values":[-5,0,5,10,15,20,25,30,35,40,45,50,55],"labelExpr":"datum.value % 10 === 0 ? datum.label : ''","tickSize":{"condition":{"test":"datum.value % 10 === 0","value":5},"value":3},"title":["Energie potentielle initiale libérée","par l'ensemble des lâchers déjà écoulés en J"]}},
"y":{"field":"y","type":"quantitative","scale":{"domain":[1,12],"nice":false,"zero":false},"axis":{"values":[1,1.5,2,2.5,3,3.5,4,4.5,5,5.5,6,6.5,7,7.5,8,8.5,9,9.5,10,10.5,11,11.5,12],"labelExpr":"datum.value % 1 === 0 ? '' + datum.value : ''","tickSize":{"condition":{"test":"datum.value % 1 === 0","value":5},"value":3},"title":"Epaisseur du lit en pixels"}}},
"layer":[{"mark":{"type":"line","color":"black","strokeWidth":0.8},"encoding":{"detail":{"field":"s"}}},
{"mark":{"type":"point","filled":true,"strokeWidth":0.9,"size":36,"opacity":1},"encoding":{"shape":{"field":"s","type":"nominal","scale":{"domain":["6.8 J","6.3 J","5.7 J","5.2 J","4.7 J","4.3 J","3.7 J","3.3 J"],"range":["square","circle","triangle-up","triangle-down","M-0.8,0A0.8,0.8,0,1,0,0.8,0A0.8,0.8,0,1,0,-0.8,0ZM-1.1,0L1.1,0M0,-1.1L0,1.1","M-1,-1L1,1L1,-1L-1,1Z","M-0.6,-1L1,0L-0.6,1ZM-1.3,0L0.3,0","M-0.75,0A0.75,1,0,1,0,0.75,0A0.75,1,0,1,0,-0.75,0ZM0,-1.2L0,1.2"]},"legend":null},"fill":{"field":"s","type":"nominal","scale":{"domain":["6.8 J","6.3 J","5.7 J","5.2 J","4.7 J","4.3 J","3.7 J","3.3 J"],"range":["black","white","white","white","white","white","white","white"]},"legend":null},"stroke":{"field":"s","type":"nominal","scale":{"domain":["6.8 J","6.3 J","5.7 J","5.2 J","4.7 J","4.3 J","3.7 J","3.3 J"],"range":["black","black","black","black","black","black","black","black"]},"legend":null}}}]},
{"width":384,"height":229,"data":{"name":"C8"},"title":{"text":"C8","offset":-23,"dx":-10},
"encoding":{"x":{"field":"x","type":"quantitative","scale":{"domain":[-5,55],"nice":false,"zero":false},"axis":{"values":[-5,0,5,10,15,20,25,30,35,40,45,50,55],"labelExpr":"datum.value % 10 === 0 ? datum.label : ''","tickSize":{"condition":{"test":"datum.value % 10 === 0","value":5},"value":3},"title":["Energie potentielle initiale libérée","par l'ensemble des lâchers déjà écoulés en J"]}},
"y":{"field":"y","type":"quantitative","scale":{"domain":[2.5,12],"nice":false,"zero":false},"axis":{"values":[2.5,3,3.5,4,4.5,5,5.5,6,6.5,7,7.5,8,8.5,9,9.5,10,10.5,11,11.5,12],"labelExpr":"datum.value % 1 === 0 ? '' + datum.value : ''","tickSize":{"condition":{"test":"datum.value % 1 === 0","value":5},"value":3},"title":"Epaisseur du lit en pixels"}}},
"layer":[{"mark":{"type":"line","strokeDash":[1,2],"color":"#555","strokeWidth":1},"encoding":{"detail":{"field":"s"}}},
{"mark":{"type":"point","filled":true,"strokeWidth":0.9,"size":36,"opacity":1},"encoding":{"shape":{"field":"s","type":"nominal","scale":{"domain":["6.8 J","6.3 J","5.7 J","5.2 J","4.7 J","4.3 J","3.7 J","3.3 J"],"range":["square","circle","triangle-up","triangle-down","M-0.8,0A0.8,0.8,0,1,0,0.8,0A0.8,0.8,0,1,0,-0.8,0ZM-1.1,0L1.1,0M0,-1.1L0,1.1","M-1,-1L1,1L1,-1L-1,1Z","M-0.6,-1L1,0L-0.6,1ZM-1.3,0L0.3,0","M-0.75,0A0.75,1,0,1,0,0.75,0A0.75,1,0,1,0,-0.75,0ZM0,-1.2L0,1.2"]},"legend":null},"fill":{"field":"s","type":"nominal","scale":{"domain":["6.8 J","6.3 J","5.7 J","5.2 J","4.7 J","4.3 J","3.7 J","3.3 J"],"range":["black","white","white","white","white","white","white","white"]},"legend":null},"stroke":{"field":"s","type":"nominal","scale":{"domain":["6.8 J","6.3 J","5.7 J","5.2 J","4.7 J","4.3 J","3.7 J","3.3 J"],"range":["black","black","black","black","black","black","black","black"]},"legend":null}}}]}
],"spacing":175,"bounds":"flush","resolve":{"scale":{"shape":"independent","fill":"independent","stroke":"independent"},"legend":{"shape":"independent","fill":"independent","stroke":"independent"}}},
{"hconcat":[
{"width":384,"height":224,"data":{"name":"C9"},"title":{"text":"C9","offset":-14.5,"dx":-27},
"encoding":{"x":{"field":"x","type":"quantitative","scale":{"domain":[-5,55],"nice":false,"zero":false},"axis":{"values":[-5,0,5,10,15,20,25,30,35,40,45,50,55],"labelExpr":"datum.value % 10 === 0 ? datum.label : ''","tickSize":{"condition":{"test":"datum.value % 10 === 0","value":5},"value":3},"titleLineHeight":14,"title":["Energie potentielle initiale libérée","par l'ensemble des lâchers déjà écoulés en J"]}},
"y":{"field":"y","type":"quantitative","scale":{"domain":[2.5,12],"nice":false,"zero":false},"axis":{"values":[2.5,3,3.5,4,4.5,5,5.5,6,6.5,7,7.5,8,8.5,9,9.5,10,10.5,11,11.5,12],"labelExpr":"datum.value % 1 === 0 ? '' + datum.value : ''","tickSize":{"condition":{"test":"datum.value % 1 === 0","value":5},"value":3},"title":"Epaisseur du lit en pixels"}}},
"layer":[{"mark":{"type":"line","strokeDash":[1,2],"color":"#555","strokeWidth":1},"encoding":{"detail":{"field":"s"}}},
{"mark":{"type":"point","filled":true,"strokeWidth":0.9,"size":36,"opacity":1},"encoding":{"shape":{"field":"s","type":"nominal","scale":{"domain":["6.8 J","6.3 J","5.7 J","5.2 J","4.7 J","4.3 J","3.7 J","3.3 J"],"range":["square","circle","triangle-up","triangle-down","M-0.8,0A0.8,0.8,0,1,0,0.8,0A0.8,0.8,0,1,0,-0.8,0ZM-1.1,0L1.1,0M0,-1.1L0,1.1","M-1,-1L1,1L1,-1L-1,1Z","M-0.6,-1L1,0L-0.6,1ZM-1.3,0L0.3,0","M-0.75,0A0.75,1,0,1,0,0.75,0A0.75,1,0,1,0,-0.75,0ZM0,-1.2L0,1.2"]},"legend":null},"fill":{"field":"s","type":"nominal","scale":{"domain":["6.8 J","6.3 J","5.7 J","5.2 J","4.7 J","4.3 J","3.7 J","3.3 J"],"range":["black","white","white","white","white","white","white","white"]},"legend":null},"stroke":{"field":"s","type":"nominal","scale":{"domain":["6.8 J","6.3 J","5.7 J","5.2 J","4.7 J","4.3 J","3.7 J","3.3 J"],"range":["black","black","black","black","black","black","black","black"]},"legend":null}}}]},
{"width":384,"height":224,"data":{"name":"C10"},"title":{"text":"C10","offset":-15,"dx":3},
"encoding":{"x":{"field":"x","type":"quantitative","scale":{"domain":[-5,55],"nice":false,"zero":false},"axis":{"values":[-5,0,5,10,15,20,25,30,35,40,45,50,55],"labelExpr":"datum.value % 10 === 0 ? datum.label : ''","tickSize":{"condition":{"test":"datum.value % 10 === 0","value":5},"value":3},"titleLineHeight":14,"title":["Energie potentielle initiale libérée","par l'ensemble des lâchers déjà écoulés en J"]}},
"y":{"field":"y","type":"quantitative","scale":{"domain":[2.5,11.5],"nice":false,"zero":false},"axis":{"values":[2.5,3,3.5,4,4.5,5,5.5,6,6.5,7,7.5,8,8.5,9,9.5,10,10.5,11,11.5],"labelExpr":"datum.value % 1 === 0 ? '' + datum.value : ''","tickSize":{"condition":{"test":"datum.value % 1 === 0","value":5},"value":3},"title":"Epaisseur du lit en pixels"}}},
"layer":[{"mark":{"type":"line","strokeDash":[1,2],"color":"#555","strokeWidth":1},"encoding":{"detail":{"field":"s"}}},
{"mark":{"type":"point","filled":true,"strokeWidth":0.9,"size":36,"opacity":1},"encoding":{"shape":{"field":"s","type":"nominal","scale":{"domain":["6.8 J","6.3 J","5.7 J","5.2 J","4.7 J","4.3 J","3.7 J","3.3 J"],"range":["square","circle","triangle-up","triangle-down","M-0.8,0A0.8,0.8,0,1,0,0.8,0A0.8,0.8,0,1,0,-0.8,0ZM-1.1,0L1.1,0M0,-1.1L0,1.1","M-1,-1L1,1L1,-1L-1,1Z","M-0.6,-1L1,0L-0.6,1ZM-1.3,0L0.3,0","M-0.75,0A0.75,1,0,1,0,0.75,0A0.75,1,0,1,0,-0.75,0ZM0,-1.2L0,1.2"]},"legend":null},"fill":{"field":"s","type":"nominal","scale":{"domain":["6.8 J","6.3 J","5.7 J","5.2 J","4.7 J","4.3 J","3.7 J","3.3 J"],"range":["black","white","white","white","white","white","white","white"]},"legend":null},"stroke":{"field":"s","type":"nominal","scale":{"domain":["6.8 J","6.3 J","5.7 J","5.2 J","4.7 J","4.3 J","3.7 J","3.3 J"],"range":["black","black","black","black","black","black","black","black"]},"legend":null}}}]}
],"spacing":175,"bounds":"flush","resolve":{"scale":{"shape":"independent","fill":"independent","stroke":"independent"},"legend":{"shape":"independent","fill":"independent","stroke":"independent"}}}
],
"config":{
"font":"Liberation Sans",
"view":{"stroke":null},
"title":{"font":"Liberation Sans","fontSize":32,"fontWeight":"normal","color":"black","anchor":"middle","frame":"group"},
"axis":{"grid":false,"domainColor":"black","domainWidth":1.5,"tickColor":"black","tickWidth":1,"labelFontSize":7.5,"labelColor":"#222","labelFont":"Liberation Sans","titleFont":"Liberation Sans","titleFontWeight":"bold","titleColor":"black","labelOverlap":false,"labelFlush":false},
"axisX":{"labelPadding":3,"titlePadding":1,"titleFontSize":11.5,"titleLineHeight":15},
"axisY":{"labelPadding":8,"titlePadding":16,"titleFontSize":11},
"legend":{"titleFont":"Liberation Sans","titleFontSize":13,"titleFontWeight":"bold","titleColor":"black","labelFont":"Liberation Sans","labelFontSize":11.5,"labelColor":"#555","symbolSize":40,"symbolStrokeColor":"black","symbolStrokeWidth":1,"strokeColor":"#333","fillColor":"white","padding":11,"rowPadding":0.3,"symbolOffset":12,"labelOffset":12,"titlePadding":5}
}
}
